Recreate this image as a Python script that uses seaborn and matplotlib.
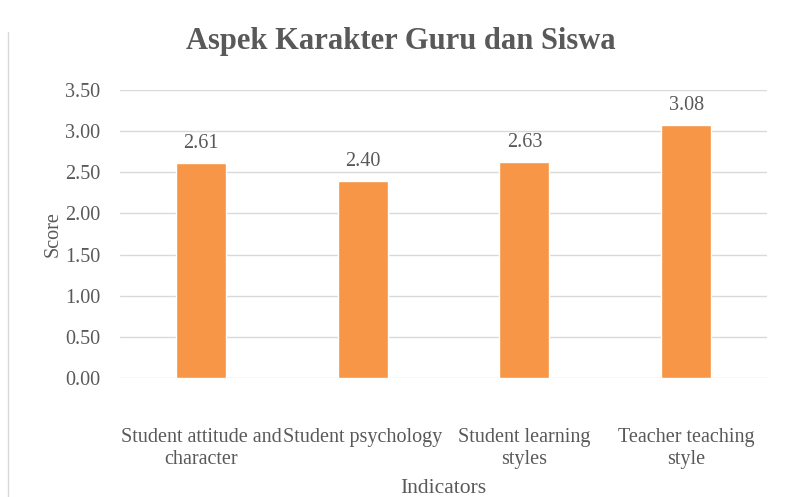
import matplotlib
matplotlib.use('Agg')
import matplotlib.pyplot as plt
import seaborn as sns
import pandas as pd
from matplotlib.lines import Line2D

# chart data
indicators = ['Student attitude and\ncharacter', 'Student psychology',
              'Student learning\nstyles', 'Teacher teaching\nstyle']
scores = [2.61, 2.40, 2.63, 3.08]
yticks = [0.0, 0.5, 1.0, 1.5, 2.0, 2.5, 3.0, 3.5]

df = pd.DataFrame({'Indicators': indicators, 'Score': scores})

sns.set_style('white')
plt.rcParams['font.family'] = ['Liberation Serif', 'DejaVu Serif']
text_col = '#595959'

fig = plt.figure(figsize=(7.85, 4.97), dpi=100)
ax = fig.add_axes([0.1529, 0.2394, 0.8242, 0.5795])

sns.barplot(data=df, x='Indicators', y='Score', color='#F79646',
            saturation=1, width=0.31, ax=ax, zorder=3)

ax.set_ylim(0, 3.5)
ax.set_yticks(yticks)
ax.set_yticklabels([f'{v:.2f}' for v in yticks])
ax.grid(axis='y', color='#D9D9D9', linewidth=1, zorder=0)
ax.grid(axis='x', visible=False)
for s in ax.spines.values():
    s.set_visible(False)
ax.tick_params(axis='both', length=0, labelsize=14.5, colors=text_col)
ax.tick_params(axis='y', pad=14)
ax.tick_params(axis='x', pad=36)

for i, v in enumerate(scores):
    ax.text(i, v + 0.12, f'{v:.2f}', ha='center', va='bottom',
            fontsize=14.5, color=text_col)

ax.set_xlabel('Indicators', fontsize=15.5, color=text_col, labelpad=7)
ax.set_ylabel('Score', fontsize=14.5, color=text_col, labelpad=2)
fig.text(0.51, 0.9155, 'Aspek Karakter Guru dan Siswa', fontsize=22,
         fontweight='bold', color=text_col, ha='center', va='center')

# chart-area border line on the left
fig.add_artist(Line2D([0.0102, 0.0102], [0.0, 0.935], transform=fig.transFigure,
                      color='#D9D9D9', linewidth=1))

fig.savefig('out.png', dpi=100)
